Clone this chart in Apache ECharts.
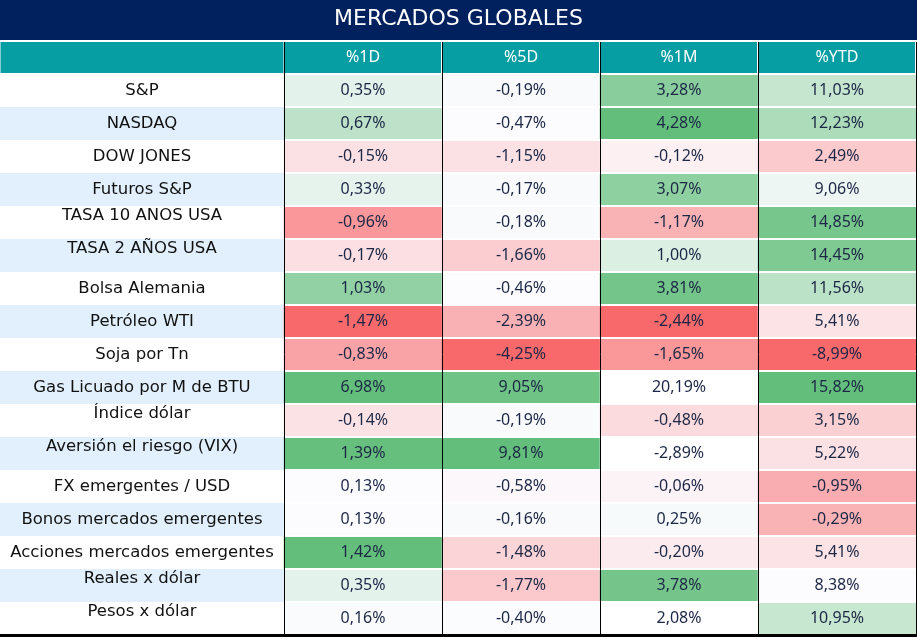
<!DOCTYPE html>
<html><head><meta charset="utf-8">
<script src="https://cdn.jsdelivr.net/npm/echarts@6/dist/echarts.min.js"></script>
<style>html,body{margin:0;padding:0;background:#fff}#c{width:917px;height:637px}</style>
</head><body><div id="c"></div>
<script>
const tableTitle = 'MERCADOS GLOBALES';
const columns = ['%1D', '%5D', '%1M', '%YTD'];
const rows = ['S&P', 'NASDAQ', 'DOW JONES', 'Futuros S&P', 'TASA 10 ANOS USA', 'TASA 2 AÑOS USA',
  'Bolsa Alemania', 'Petróleo WTI', 'Soja por Tn', 'Gas Licuado por M de BTU', 'Índice dólar',
  'Aversión el riesgo (VIX)', 'FX emergentes / USD', 'Bonos mercados emergentes',
  'Acciones mercados emergentes', 'Reales x dólar', 'Pesos x dólar'];
const pct1D  = [0.35, 0.67, -0.15, 0.33, -0.96, -0.17, 1.03, -1.47, -0.83, 6.98, -0.14, 1.39, 0.13, 0.13, 1.42, 0.35, 0.16];
const pct5D  = [-0.19, -0.47, -1.15, -0.17, -0.18, -1.66, -0.46, -2.39, -4.25, 9.05, -0.19, 9.81, -0.58, -0.16, -1.48, -1.77, -0.40];
const pct1M  = [3.28, 4.28, -0.12, 3.07, -1.17, 1.00, 3.81, -2.44, -1.65, 20.19, -0.48, -2.89, -0.06, 0.25, -0.20, 3.78, 2.08];
const pctYTD = [11.03, 12.23, 2.49, 9.06, 14.85, 14.45, 11.56, 5.41, -8.99, 15.82, 3.15, 5.22, -0.95, -0.29, 5.41, 8.38, 10.95];
// cells outside the colour-scale rule in the source sheet [col,row]
const plainCells = [[2, 9], [2, 11], [2, 16]];
// cells coloured but not used to set the scale range [col,row]
const anchorExcluded = [[0, 9]];
const topAlignedRows = [4, 5, 10, 11, 15, 16];

const colValues = [pct1D, pct5D, pct1M, pctYTD];
const has = (list, c, r) => list.some(p => p[0] === c && p[1] === r);
function median(a) { const s = a.slice().sort((x, y) => x - y); const n = s.length; return n % 2 ? s[(n - 1) / 2] : (s[n / 2 - 1] + s[n / 2]) / 2; }
const fmt = v => v.toFixed(2).replace('.', ',') + '%';
const cells = [], plain = [];
colValues.forEach((vals, c) => {
  const used = vals.filter((v, r) => !has(plainCells, c, r) && !has(anchorExcluded, c, r));
  const mn = Math.min(...used), mx = Math.max(...used), md = median(used);
  vals.forEach((v, r) => {
    if (has(plainCells, c, r)) { plain.push([c, r, 0, fmt(v)]); return; }
    let s = v >= md ? (v - md) / (mx - md) : (v - md) / (md - mn);
    s = Math.max(-1, Math.min(1, s));
    cells.push([c, r, s, fmt(v)]);
  });
});

const numFont = 'Noto Sans';
const lblFont = 'DejaVu Sans';
const cellLabel = { show: true, formatter: p => p.value[3], color: '#1C2746', fontSize: 16, fontFamily: numFont };
const chart = echarts.init(document.getElementById('c'), null, { renderer: 'canvas' });
chart.setOption({
  animation: false,
  graphic: [
    { type: 'rect', left: 0, top: 0, z: 0, shape: { width: 917, height: 40 }, style: { fill: '#00205E' } },
    { type: 'text', left: 'center', top: 8, z: 1, style: { text: tableTitle, fill: '#FFFFFF', font: '400 22px "DejaVu Sans"' } }
  ],
  grid: [
    { left: 0, top: 74, width: 284, height: 561, outerBoundsMode: 'none', containLabel: false },
    { left: 284, top: 74, width: 632, height: 561, outerBoundsMode: 'none', containLabel: false }
  ],
  visualMap: {
    show: false, seriesIndex: 0, dimension: 2, min: -1, max: 1,
    inRange: { color: ['#F8696B', '#FCFCFF', '#63BE7B'] }
  },
  xAxis: [
    { gridIndex: 0, type: 'category', position: 'top', data: [' '], z: 8,
      axisLine: { show: false }, axisTick: { show: false }, splitLine: { show: false },
      axisLabel: { margin: 1, formatter: () => '{h| }', rich: { h: { width: 283, height: 31, backgroundColor: '#069EA3' } } } },
    { gridIndex: 1, type: 'category', position: 'top', data: columns, z: 6,
      axisLine: { show: false },
      axisTick: { show: true, length: 32, interval: 0, lineStyle: { color: '#000', width: 1 } },
      splitLine: { show: true, lineStyle: { color: '#000', width: 1 } },
      axisLabel: { margin: 1, interval: 0, formatter: v => '{h|' + v + '}',
        rich: { h: { width: 156, height: 31, backgroundColor: '#069EA3', color: '#FFFFFF', fontSize: 16, fontFamily: numFont, align: 'center' } } } },
    { gridIndex: 1, type: 'category', position: 'bottom', data: columns, z: 7,
      axisLine: { show: true, lineStyle: { color: '#000', width: 3 } }, axisTick: { show: false }, axisLabel: { show: false }, splitLine: { show: false } },
    { gridIndex: 0, type: 'category', position: 'bottom', data: [' '], z: 7,
      axisLine: { show: true, lineStyle: { color: '#000', width: 3 } }, axisTick: { show: false }, axisLabel: { show: false }, splitLine: { show: false } }
  ],
  yAxis: [
    { gridIndex: 0, type: 'category', inverse: true, data: rows,
      axisLine: { show: false }, axisTick: { show: false },
      splitArea: { show: true, areaStyle: { color: ['#FFFFFF', '#E1F0FC'] } },
      axisLabel: { inside: true, margin: 0, interval: 0,
        formatter: (v, i) => (topAlignedRows.includes(i) ? '{t|' : '{n|') + v + '}',
        rich: {
          n: { width: 284, align: 'center', fontSize: 16.5, fontFamily: lblFont, color: '#111111' },
          t: { width: 284, align: 'center', fontSize: 16.5, fontFamily: lblFont, color: '#111111', padding: [0, 0, 14, 0] }
        } } },
    { gridIndex: 1, type: 'category', inverse: true, data: rows, z: 5,
      axisLine: { show: false }, axisTick: { show: false }, axisLabel: { show: false },
      splitLine: { show: true, lineStyle: { color: '#FFFFFF', width: 2 } } }
  ],
  series: [{
    type: 'heatmap', xAxisIndex: 1, yAxisIndex: 1, data: cells,
    itemStyle: { borderWidth: 0 }, emphasis: { disabled: true }, label: cellLabel
  }, {
    type: 'heatmap', xAxisIndex: 1, yAxisIndex: 1, data: plain,
    itemStyle: { color: '#FFFFFF', borderWidth: 0 }, emphasis: { disabled: true }, label: cellLabel
  }]
});
</script></body></html>
